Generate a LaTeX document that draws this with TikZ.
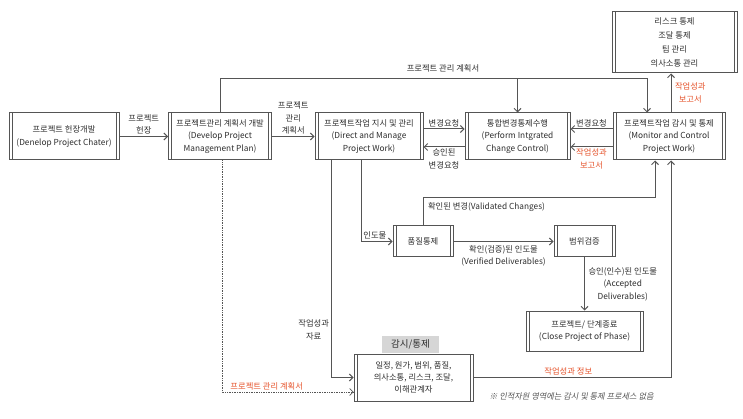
\documentclass[tikz,border=0pt]{standalone}
\usepackage{fontspec}
\setmainfont{Noto Sans CJK KR}
\newfontfamily\notefont[FakeSlant=0.2]{Noto Sans CJK KR}
\usepackage{tikz}
\usetikzlibrary{arrows.meta,positioning}
\definecolor{linegray}{HTML}{555555}
\definecolor{textgray}{HTML}{2E2E2E}
\definecolor{outred}{HTML}{E5532B}
\definecolor{tabgray}{HTML}{D6D6D6}

\begin{document}
\begin{tikzpicture}[x=1pt,y=-1pt, font=\fontsize{8.3}{12.5}\selectfont, text=textgray,
	proc/.style={draw=linegray, line width=1pt, fill=white, align=center, inner sep=2pt,
		path picture={\draw[linegray, line width=0.9pt] ([xshift=3pt]path picture bounding box.north west) -- ([xshift=3pt]path picture bounding box.south west) ([xshift=-3pt]path picture bounding box.north east) -- ([xshift=-3pt]path picture bounding box.south east);}},
	arr/.style={draw=linegray, line width=1pt, -{Straight Barb[length=3.5pt,width=7pt]}},
	lbl/.style={align=center, inner sep=1.5pt},
	redlbl/.style={lbl, text=outred}]

	\useasboundingbox (0,0) rectangle (743,419);

	\node[proc, minimum width=110pt, minimum height=47pt] (charter) at (64,136.5) {프로젝트 헌장개발\\(Denelop Project Chater)};
	\node[proc, minimum width=103pt, minimum height=47pt] (plan) at (220,136.5) {프로젝트관리 계획서 개발\\(Develop Project\\Management Plan)};
	\node[proc, minimum width=108pt, minimum height=47pt] (direct) at (369,136.5) {프로젝트작업 지시 및 관리\\(Direct and Manage\\Project Work)};
	\node[proc, minimum width=105pt, minimum height=47pt] (change) at (517.5,136.5) {통합변경통제수행\\(Perform Intgrated\\Change Control)};
	\node[proc, minimum width=112pt, minimum height=47pt] (monitor) at (669,136.5) {프로젝트작업 감시 및 통제\\(Monitor and Control\\Project Work)};
	\node[proc, minimum width=125pt, minimum height=61pt, font=\fontsize{8.3}{14}\selectfont] (areas) at (674.5,42.5) {리스크 통제\\조달 통제\\팀 관리\\의사소통 관리};
	\node[proc, minimum width=60pt, minimum height=31pt] (quality) at (423,241.5) {품질통제};
	\node[proc, minimum width=61pt, minimum height=31pt] (scope) at (584.5,241.5) {범위검증};
	\node[proc, minimum width=117pt, minimum height=40pt] (close) at (584.5,331) {프로젝트/ 단계종료\\(Close Project of Phase)};
	\node[proc, minimum width=119pt, minimum height=47pt, font=\fontsize{8.3}{11.7}\selectfont] (control) at (413.5,377.5) {일정, 원가, 범위, 품질,\\의사소통, 리스크, 조달,\\이해관계자};
	\node[fill=tabgray, minimum width=57pt, minimum height=17pt, inner sep=1pt, above=0.5pt of control, xshift=-3pt, font=\fontsize{9.5}{10}\selectfont] (tab) {감시/통제};

	\coordinate (plantop) at (220,79);
	\draw[arr] (plan.north) -- (plantop) -| ([xshift=-22pt]monitor.north);
	\draw[arr] (change.north |- plantop) -- (change.north);
	\node[lbl] (plantitle) at (443,68) {프로젝트 관리 계획서};

	\draw[arr] (charter) -- (plan) node[lbl, midway, above] (chartertext) {프로젝트\\헌장};
	\draw[arr] (plan) -- (direct) node[lbl, midway, above] (plantext) {프로젝트\\관리\\계획서};
	\draw[arr] ([yshift=7.5pt]direct.east) -- ([yshift=7.5pt]change.west) node[lbl, midway, above] (reqtext) {변경요청};
	\draw[arr] ([yshift=-10.5pt]change.west) -- ([yshift=-10.5pt]direct.east) node[lbl, midway, below] (apptext) {승인된\\변경요청};
	\draw[arr] ([yshift=7.5pt]monitor.west) -- ([yshift=7.5pt]change.east) node[lbl, midway, above] (reqtext2) {변경요청};
	\draw[arr] ([yshift=-10.5pt]monitor.west) -- ([yshift=-10.5pt]change.east) node[redlbl, midway, below] (reptext) {작업성과\\보고서};
	\draw[arr] ([xshift=2pt]monitor.north) -- ([xshift=2pt]monitor.north |- areas.south) node[redlbl, midway, right=2pt] (reptext2) {작업성과\\보고서};

	\draw[arr] ([xshift=-8pt]direct.south) |- (quality.west) node[lbl, pos=0.72, above] (deltext) {인도물};
	\draw[arr] ([xshift=-38pt]direct.south) |- (control.west) node[lbl, pos=0.39, left] (datatext) {작업성과\\자료};
	\draw[arr, line width=0.7pt, densely dotted] ([xshift=2pt]plan.south) |- ([yshift=-14.5pt]control.west) node[redlbl, pos=0.67, above] (plantext2) {프로젝트 관리 계획서};

	\coordinate (validtop) at (423,198);
	\draw[arr] (quality.north) -- (validtop) node[lbl, anchor=north west, xshift=3pt, yshift=-3pt] (valtext) {확인된 변경(Validated Changes)} -| ([xshift=-14pt]monitor.south);
	\draw[arr] (quality) -- (scope) node[lbl, midway, below=2pt] (vertext) {확인(검증)된 인도물\\(Verified Deliverables)};
	\draw[arr] (scope) -- (close) node[lbl, midway, right=2pt] (acctext) {승인(인수)된 인도물\\(Accepted\\Deliverables)};
	\draw[arr] (control.east) -| ([xshift=2pt]monitor.south) node[redlbl, pos=0.24, above] (infotext) {작업성과 정보};

	\node[text=linegray, font=\notefont\fontsize{8.2}{9}\selectfont] (note) at (571.5,396) {※ 인적자원 영역에는 감시 및 통제 프로세스 없음};

\end{tikzpicture}
\end{document}
